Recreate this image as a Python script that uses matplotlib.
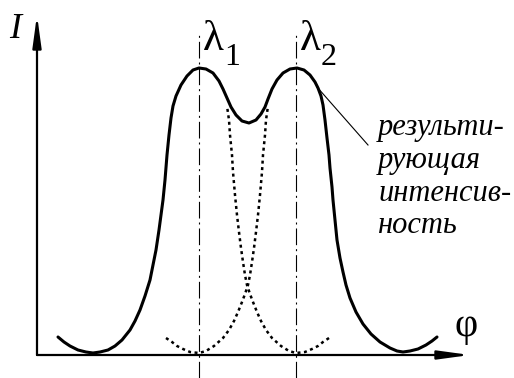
import matplotlib.pyplot as plt

# resulting intensity (solid curve)
phi_sum = [21, 27, 33, 41, 49, 56, 63, 71, 78, 85, 93, 98, 103, 108, 113, 116,
           119, 122, 124, 126, 128, 130, 132, 134, 136, 139, 144, 150, 156, 162,
           169, 176, 182, 186, 190, 194, 199, 205, 212, 219, 224, 228, 231, 235,
           240, 246, 253, 260, 267, 273, 278, 281, 284, 286, 288, 290, 292, 293,
           295, 296, 298, 300, 303, 306, 309, 313, 319, 326, 334, 343, 353, 360,
           366, 373, 381, 389, 395, 400]
I_sum = [18, 13, 9, 5, 3, 2, 3, 5, 9, 15, 25, 34, 45, 59, 75, 90,
         105, 125, 140, 155, 175, 200, 220, 237, 249, 259, 270, 279, 285, 287,
         286, 282, 274, 266, 257, 248, 240, 234, 232, 235, 241, 248, 256, 266,
         275, 282, 286, 287, 285, 280, 273, 267, 259, 250, 235, 217, 200, 187,
         168, 155, 135, 115, 97, 83, 70, 57, 43, 31, 21, 13, 7, 4,
         3, 4, 6, 10, 14, 18]

# line profile of lambda2 (its left wing, zero at lambda1)
phi_l2 = [129, 135, 140, 146, 153, 162, 169, 177, 186, 192, 197, 201, 205,
          208, 211, 213, 215, 217, 219, 221, 223, 225, 226, 228, 229, 231]
I_l2 = [17, 13, 9, 6, 3, 2, 4, 9, 17, 25, 34, 43, 53,
        61, 70, 80, 93, 107, 123, 140, 160, 183, 200, 220, 235, 249]

# line profile of lambda1 (its right wing, zero at lambda2)
phi_l1 = [292, 286, 281, 275, 268, 259, 252, 244, 235, 229, 224, 220, 216,
          213, 210, 208, 206, 204, 202, 200, 198, 196, 195, 193, 192, 190]
I_l1 = [17, 13, 9, 6, 3, 2, 4, 9, 17, 25, 34, 43, 53,
        61, 70, 80, 93, 107, 123, 140, 160, 183, 200, 220, 235, 249]

# positions of the two maxima
line_pos = [162, 259]
line_names = ['1', '2']

SERIF = 'Liberation Serif'

fig = plt.figure(figsize=(5.14, 3.78), dpi=100)
ax = fig.add_axes([0, 0, 1, 1])
ax.set_xlim(-37, 477)
ax.set_ylim(-23, 355)
ax.axis('off')

# axes with arrows
arrow = dict(arrowstyle='-|>,head_length=1.9,head_width=0.26', lw=1.6,
             color='black', mutation_scale=10, shrinkA=0, shrinkB=0)
ax.annotate('', xy=(0, 340), xytext=(0, 0), arrowprops=arrow)
ax.annotate('', xy=(433, 0), xytext=(0, 0), arrowprops=arrow)

# dash-dot markers at lambda1, lambda2
for x in line_pos:
    ax.plot([x, x], [-23, 322], color='black', lw=0.8,
            linestyle=(0, (15, 3.6, 1.8, 3.6)))

ax.plot(phi_l2, I_l2, color='black', lw=1.8, linestyle=(0, (1.2, 1.4)))
ax.plot(phi_l1, I_l1, color='black', lw=1.8, linestyle=(0, (1.2, 1.4)))
ax.plot(phi_sum, I_sum, color='black', lw=2.2, solid_capstyle='round',
        solid_joinstyle='round')

# leader to the caption
ax.plot([280, 331], [268, 210], color='black', lw=0.8)

ax.text(-28, 317, 'I', family=SERIF, style='italic', fontsize=26,
        ha='left', va='baseline')
ax.text(417, 19, 'φ', family=SERIF, fontsize=29, ha='left', va='baseline')

for x, name in zip(line_pos, line_names):
    ax.text(x + 4, 305, 'λ', family=SERIF, fontsize=31, ha='left', va='baseline')
    ax.text(x + 25, 290, name, family=SERIF, fontsize=23, ha='left', va='baseline')

caption = ['результи-', 'рующая', 'интенсив-', 'ность']
caption_y = [220, 187, 154, 122]
for s, y in zip(caption, caption_y):
    ax.text(341, y, s, family=SERIF, style='italic', fontsize=22,
            ha='left', va='baseline')

fig.savefig('out.png', dpi=100)
